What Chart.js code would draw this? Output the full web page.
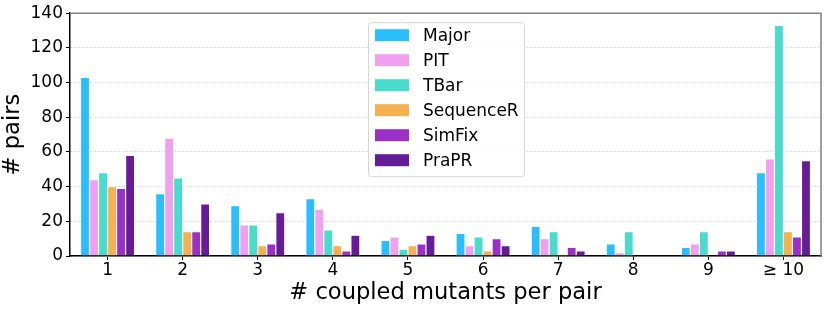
<!DOCTYPE html>
<html>
<head>
<meta charset="utf-8">
<script src="https://cdn.jsdelivr.net/npm/chart.js@4/dist/chart.umd.min.js"></script>
<style>
  html, body { margin: 0; padding: 0; background: #fff; }
  #wrap { width: 831px; height: 312px; }
</style>
</head>
<body>
<div id="wrap"><canvas id="Chart_0" width="831" height="312"></canvas></div>
<script>
"use strict";

// data
const categories = ['1', '2', '3', '4', '5', '6', '7', '8', '9', '\u2265 10'];
const tools = ['Major', 'PIT', 'TBar', 'SequenceR', 'SimFix', 'PraPR'];
const major     = [103, 36, 29, 33, 9, 13, 17, 7, 5, 48];
const pit       = [44, 68, 18, 27, 11, 6, 10, 2, 7, 56];
const tbar      = [48, 45, 18, 15, 4, 11, 14, 14, 14, 133];
const sequencer = [40, 14, 6, 6, 6, 3, 1, 0, 0, 14];
const simfix    = [39, 14, 7, 3, 7, 10, 5, 0, 3, 11];
const prapr     = [58, 30, 25, 12, 12, 6, 3, 0, 3, 55];
const yTicks = [0, 20, 40, 60, 80, 100, 120, 140];

const colors = ['#2bbefd', '#f1a0ef', '#48dccc', '#f5b04f', '#9b2fc7', '#651c97'];
const series = [major, pit, tbar, sequencer, simfix, prapr];

const FONT = 'DejaVu Sans';

// legend box inside the plot, like matplotlib's
const innerLegend = {
  id: 'innerLegend',
  afterDraw(chart) {
    const ctx = chart.ctx, area = chart.chartArea;
    const x0 = area.left + 298, y0 = area.top + 9;
    const w = 156, rowH = 25, h = 154;
    ctx.save();
    ctx.fillStyle = 'rgba(255,255,255,0.85)';
    ctx.strokeStyle = '#d6d6d6';
    ctx.lineWidth = 1;
    ctx.beginPath();
    ctx.roundRect(x0 + 0.5, y0 + 0.5, w, h, 3);
    ctx.fill(); ctx.stroke();
    ctx.font = '17px ' + FONT;
    ctx.textBaseline = 'middle';
    chart.data.datasets.forEach((ds, i) => {
      const cy = y0 + 13 + i * rowH;
      ctx.fillStyle = ds.backgroundColor;
      ctx.fillRect(x0 + 7, cy - 6, 34, 12);
      ctx.fillStyle = '#000';
      ctx.fillText(ds.label, x0 + 55, cy + 1);
    });
    ctx.restore();
  }
};

// grey top/right spines
const spines = {
  id: 'spines',
  afterDatasetsDraw(chart) {
    const ctx = chart.ctx, a = chart.chartArea;
    ctx.save();
    ctx.strokeStyle = '#808080';
    ctx.lineWidth = 1.5;
    ctx.beginPath();
    ctx.moveTo(a.left, a.top);
    ctx.lineTo(a.right, a.top);
    ctx.lineTo(a.right, a.bottom);
    ctx.stroke();
    ctx.restore();
  }
};

var ctx = document.getElementById('Chart_0');
Chart.defaults.font.family = FONT;
Chart.defaults.color = '#000';
let chart = new Chart(ctx, {
  type: 'bar',
  data: {
    labels: categories,
    datasets: tools.map((t, i) => ({
      label: t,
      data: series[i],
      backgroundColor: colors[i],
      borderColor: '#ffffff',
      borderWidth: 0.6,
      categoryPercentage: 0.72,
      barPercentage: 1.0
    }))
  },
  options: {
    responsive: false,
    animation: false,
    layout: { padding: { left: 0, right: 10, top: 13, bottom: 0 } },
    plugins: {
      legend: { display: false },
      tooltip: { enabled: false }
    },
    scales: {
      x: {
        grid: { offset: false, drawOnChartArea: false, drawTicks: true, tickLength: 4, tickColor: '#000' },
        border: { color: '#000', width: 1.5 },
        ticks: { font: { size: 17 }, color: '#000', padding: 0, maxRotation: 0 },
        title: { display: true, text: '# coupled mutants per pair', font: { size: 22.6 }, color: '#000', padding: { top: 0, bottom: 5 } },
        afterFit(scale) { scale.height = 56; }
      },
      y: {
        min: 0, max: 140,
        afterBuildTicks(scale) { scale.ticks = yTicks.map(v => ({ value: v })); },
        grid: {
          color: '#cccccc', lineWidth: 0.8,
          drawTicks: true, tickLength: 4, tickColor: '#000', tickBorderDash: [],
          tickWidth: 1
        },
        border: { color: '#000', width: 1.5, dash: [2, 2] },
        ticks: { font: { size: 17 }, color: '#000', padding: 3 },
        title: { display: true, text: '# pairs', font: { size: 22.6 }, color: '#000', padding: { top: 0, bottom: 2 } },
        afterFit(scale) { scale.width = 70; }
      }
    }
  },
  plugins: [spines, innerLegend]
});
</script>
</body>
</html>
